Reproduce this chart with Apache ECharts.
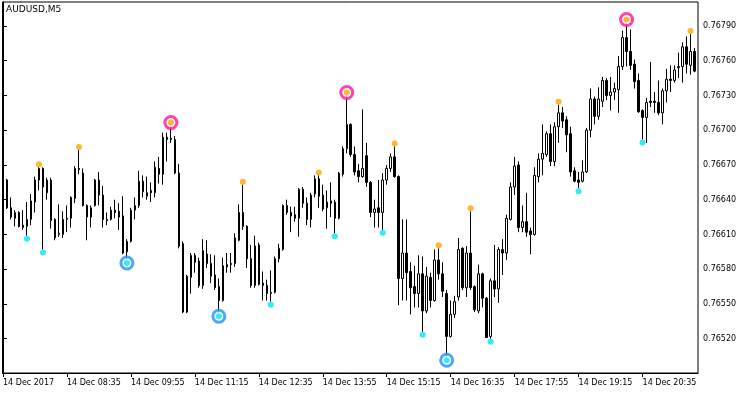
<!DOCTYPE html>
<html><head><meta charset="utf-8">
<script src="https://cdn.jsdelivr.net/npm/echarts@6/dist/echarts.min.js"></script>
<style>html,body{margin:0;padding:0;background:#fff}#c{width:750px;height:394px}</style>
</head><body><div id="c"></div>
<script>
const chartTitle = 'AUDUSD,M5';
const tickBars = [0,16,32,48,64,80,96,112,128,144,160];
const tickLabels = ['14 Dec 2017','14 Dec 08:35','14 Dec 09:55','14 Dec 11:15','14 Dec 12:35','14 Dec 13:55','14 Dec 15:15','14 Dec 16:35','14 Dec 17:55','14 Dec 19:15','14 Dec 20:35'];
const priceTicks = [0.7652,0.7655,0.7658,0.7661,0.7664,0.7667,0.767,0.7673,0.7676,0.7679];

const open = [0.76661,0.76657,0.76633,0.76624,0.76629,0.76618,0.76617,0.76623,0.76638,0.76657,
0.76667,0.76646,0.76657,0.76623,0.76610,0.76610,0.76623,0.76624,0.76641,0.76667,
0.76663,0.76635,0.76625,0.76635,0.76657,0.76644,0.76623,0.76623,0.76631,0.76630,
0.76626,0.76595,0.76604,0.76631,0.76635,0.76656,0.76643,0.76648,0.76646,0.76667,
0.76662,0.76694,0.76693,0.76692,0.76663,0.76602,0.76543,0.76573,0.76592,0.76587,
0.76566,0.76593,0.76585,0.76575,0.76565,0.76553,0.76582,0.76584,0.76585,0.76605,
0.76629,0.76617,0.76589,0.76566,0.76601,0.76568,0.76566,0.76559,0.76560,0.76589,
0.76597,0.76635,0.76629,0.76627,0.76624,0.76649,0.76637,0.76623,0.76645,0.76658,
0.76644,0.76633,0.76639,0.76638,0.76624,0.76662,0.76684,0.76705,0.76679,0.76665,
0.76660,0.76678,0.76655,0.76629,0.76633,0.76629,0.76657,0.76667,0.76677,0.76660,
0.76572,0.76594,0.76578,0.76565,0.76559,0.76576,0.76544,0.76573,0.76553,0.76588,
0.76576,0.76559,0.76522,0.76541,0.76556,0.76598,0.76564,0.76594,0.76565,0.76544,
0.76576,0.76555,0.76522,0.76570,0.76563,0.76597,0.76594,0.76623,0.76651,0.76670,
0.76616,0.76621,0.76613,0.76610,0.76660,0.76675,0.76679,0.76697,0.76673,0.76703,
0.76715,0.76709,0.76697,0.76665,0.76657,0.76656,0.76664,0.76700,0.76727,0.76712,
0.76725,0.76743,0.76730,0.76733,0.76735,0.76755,0.76780,0.76768,0.76757,0.76743,
0.76717,0.76711,0.76725,0.76725,0.76724,0.76715,0.76734,0.76744,0.76743,0.76754,
0.76755,0.76772,0.76756,0.76768];

const close = [0.76656,0.76633,0.76625,0.76629,0.76617,0.76616,0.76623,0.76639,0.76657,0.76667,
0.76651,0.76657,0.76622,0.76607,0.76611,0.76623,0.76624,0.76642,0.76667,0.76666,
0.76635,0.76625,0.76633,0.76657,0.76644,0.76623,0.76622,0.76631,0.76629,0.76625,
0.76594,0.76604,0.76631,0.76635,0.76656,0.76647,0.76646,0.76646,0.76668,0.76662,
0.76694,0.76692,0.76692,0.76663,0.76600,0.76543,0.76574,0.76592,0.76586,0.76566,
0.76596,0.76585,0.76574,0.76564,0.76553,0.76583,0.76584,0.76585,0.76607,0.76629,
0.76617,0.76589,0.76566,0.76600,0.76567,0.76566,0.76559,0.76560,0.76589,0.76598,
0.76635,0.76629,0.76626,0.76624,0.76649,0.76637,0.76623,0.76644,0.76658,0.76643,
0.76632,0.76638,0.76637,0.76624,0.76663,0.76684,0.76705,0.76679,0.76664,0.76660,
0.76667,0.76655,0.76629,0.76632,0.76629,0.76657,0.76667,0.76677,0.76660,0.76572,
0.76594,0.76577,0.76564,0.76559,0.76576,0.76544,0.76574,0.76553,0.76588,0.76576,
0.76561,0.76522,0.76541,0.76552,0.76597,0.76564,0.76594,0.76564,0.76545,0.76576,
0.76555,0.76521,0.76570,0.76563,0.76597,0.76594,0.76624,0.76651,0.76669,0.76616,
0.76621,0.76612,0.76610,0.76661,0.76675,0.76680,0.76697,0.76673,0.76703,0.76715,
0.76708,0.76696,0.76664,0.76656,0.76655,0.76664,0.76700,0.76727,0.76712,0.76727,
0.76743,0.76730,0.76733,0.76736,0.76755,0.76780,0.76768,0.76756,0.76742,0.76716,
0.76711,0.76724,0.76724,0.76724,0.76715,0.76734,0.76744,0.76743,0.76752,0.76755,
0.76772,0.76757,0.76768,0.76751];

const low = [0.76655,0.76632,0.76623,0.76617,0.76616,0.76614,0.76609,0.76618,0.76629,0.76648,
0.76597,0.76640,0.76615,0.76605,0.76608,0.76607,0.76612,0.76616,0.76637,0.76662,
0.76634,0.76605,0.76616,0.76634,0.76635,0.76616,0.76618,0.76622,0.76624,0.76614,
0.76593,0.76588,0.76603,0.76623,0.76633,0.76642,0.76640,0.76638,0.76642,0.76654,
0.76653,0.76673,0.76689,0.76662,0.76598,0.76542,0.76542,0.76559,0.76577,0.76564,
0.76563,0.76581,0.76568,0.76562,0.76542,0.76552,0.76577,0.76577,0.76582,0.76604,
0.76614,0.76581,0.76564,0.76564,0.76566,0.76553,0.76553,0.76552,0.76559,0.76586,
0.76596,0.76627,0.76612,0.76621,0.76608,0.76633,0.76618,0.76616,0.76642,0.76633,
0.76630,0.76615,0.76625,0.76611,0.76623,0.76660,0.76680,0.76677,0.76661,0.76655,
0.76659,0.76651,0.76625,0.76616,0.76616,0.76614,0.76653,0.76664,0.76659,0.76549,
0.76553,0.76553,0.76541,0.76547,0.76547,0.76526,0.76542,0.76547,0.76552,0.76571,
0.76556,0.76504,0.76521,0.76538,0.76553,0.76562,0.76556,0.76562,0.76543,0.76542,
0.76547,0.76521,0.76520,0.76556,0.76551,0.76575,0.76588,0.76622,0.76644,0.76612,
0.76612,0.76608,0.76593,0.76609,0.76655,0.76661,0.76677,0.76669,0.76669,0.76689,
0.76702,0.76681,0.76660,0.76655,0.76650,0.76655,0.76663,0.76694,0.76705,0.76709,
0.76720,0.76726,0.76717,0.76726,0.76715,0.76752,0.76755,0.76752,0.76736,0.76715,
0.76692,0.76689,0.76720,0.76715,0.76713,0.76705,0.76724,0.76733,0.76741,0.76745,
0.76741,0.76749,0.76748,0.76750];

const high = [0.76662,0.76658,0.76642,0.76631,0.76630,0.76631,0.76638,0.76645,0.76660,0.76668,
0.76668,0.76659,0.76659,0.76624,0.76636,0.76630,0.76635,0.76643,0.76669,0.76683,
0.76667,0.76636,0.76635,0.76658,0.76664,0.76652,0.76629,0.76634,0.76640,0.76637,
0.76643,0.76606,0.76633,0.76642,0.76665,0.76661,0.76660,0.76655,0.76673,0.76677,
0.76698,0.76698,0.76704,0.76695,0.76671,0.76604,0.76575,0.76594,0.76594,0.76590,
0.76606,0.76605,0.76593,0.76592,0.76572,0.76590,0.76594,0.76594,0.76611,0.76636,
0.76653,0.76618,0.76601,0.76609,0.76603,0.76578,0.76571,0.76579,0.76591,0.76602,
0.76636,0.76640,0.76634,0.76634,0.76650,0.76651,0.76642,0.76646,0.76661,0.76661,
0.76653,0.76648,0.76655,0.76640,0.76664,0.76686,0.76730,0.76706,0.76686,0.76671,
0.76718,0.76689,0.76656,0.76640,0.76657,0.76663,0.76670,0.76680,0.76686,0.76661,
0.76623,0.76623,0.76586,0.76583,0.76592,0.76591,0.76582,0.76577,0.76597,0.76598,
0.76586,0.76562,0.76553,0.76557,0.76607,0.76599,0.76600,0.76630,0.76566,0.76584,
0.76577,0.76556,0.76572,0.76601,0.76599,0.76606,0.76627,0.76655,0.76677,0.76673,
0.76635,0.76646,0.76616,0.76668,0.76680,0.76705,0.76699,0.76705,0.76707,0.76722,
0.76720,0.76712,0.76703,0.76668,0.76664,0.76674,0.76702,0.76736,0.76729,0.76737,
0.76746,0.76745,0.76746,0.76741,0.76764,0.76786,0.76793,0.76787,0.76761,0.76749,
0.76718,0.76728,0.76759,0.76733,0.76743,0.76736,0.76753,0.76756,0.76756,0.76767,
0.76776,0.76781,0.76783,0.76771];

// bars carrying fractal marks (indices)
const upFractals = [9,19,42,60,79,86,98,109,117,139,156,172];
const downFractals = [6,10,31,54,67,83,95,105,111,122,144,160];
const upMajor = [42,86,156];
const downMajor = [31,54,111];

const candles = open.map((o, i) => [i, o, close[i], low[i], high[i]]);
const pts = (idx, arr) => idx.map(i => [i, arr[i]]);

const chart = echarts.init(document.getElementById('c'), null, {renderer: 'canvas'});
const FONT = 'DejaVu Sans';
chart.setOption({
  animation: false,
  backgroundColor: '#ffffff',
  title: {text: chartTitle, left: 6, top: 5, padding: 0,
    textStyle: {fontFamily: FONT, fontSize: 9, fontWeight: 'normal', color: '#000'}},
  grid: {left: 2, top: 2, right: 52, bottom: 21, show: true, borderColor: '#000', borderWidth: 1, backgroundColor: '#fff'},
  xAxis: {
    type: 'value', min: -0.125, max: 173.875,
    splitLine: {show: false},
    axisLine: {show: true, lineStyle: {color: '#000', width: 1}},
    axisTick: {show: true, customValues: tickBars, length: 4, lineStyle: {color: '#000'}},
    axisLabel: {customValues: tickBars, align: 'left', margin: 6, fontFamily: FONT, fontSize: 8, color: '#000',
      formatter: v => tickLabels[tickBars.indexOf(Math.round(v))] || ''}
  },
  yAxis: {
    type: 'value', position: 'right', min: 0.764904, max: 0.768107,
    splitLine: {show: false},
    axisLine: {show: true, lineStyle: {color: '#000', width: 1}},
    axisTick: {show: true, customValues: priceTicks, length: 4, lineStyle: {color: '#000'}},
    axisLabel: {customValues: priceTicks, margin: 5, fontFamily: FONT, fontSize: 8, color: '#000',
      formatter: v => v.toFixed(5)}
  },
  series: [
    {type: 'candlestick', data: candles, barWidth: 2, z: 2,
      itemStyle: {color: '#ffffff', color0: '#000000', borderColor: '#000000', borderColor0: '#000000', borderWidth: 1}},
    {type: 'scatter', data: pts(upMajor, high), symbol: 'circle', symbolSize: 12, symbolOffset: [0, -3], z: 3,
      itemStyle: {color: '#ffffff', borderColor: '#ff1493', borderWidth: 3}},
    {type: 'scatter', data: pts(downMajor, low), symbol: 'circle', symbolSize: 12, symbolOffset: [0, 3], z: 3,
      itemStyle: {color: '#ffffff', borderColor: '#1e90ff', borderWidth: 3}},
    {type: 'scatter', data: pts(upFractals, high), symbol: 'circle', symbolSize: 6, symbolOffset: [0, -3], z: 4,
      itemStyle: {color: '#ffa500'}},
    {type: 'scatter', data: pts(downFractals, low), symbol: 'circle', symbolSize: 6, symbolOffset: [0, 3], z: 4,
      itemStyle: {color: '#00e6f0'}}
  ]
});
</script>
</body></html>
